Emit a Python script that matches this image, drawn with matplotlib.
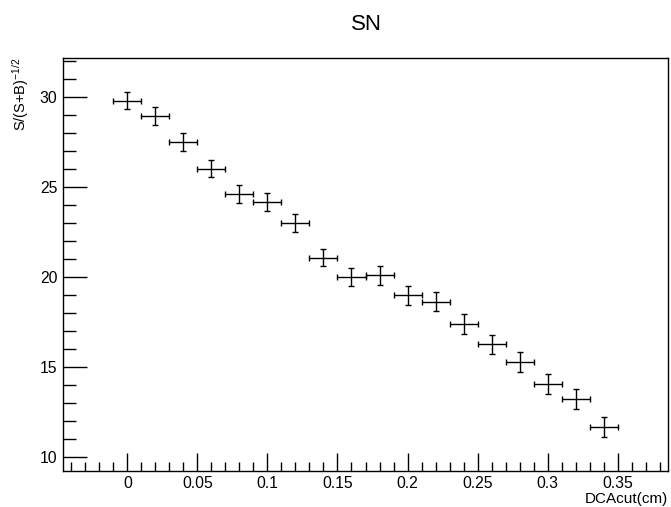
import numpy as np
import matplotlib.pyplot as plt
from matplotlib.ticker import MultipleLocator

plt.rcParams['font.family'] = ['Liberation Sans', 'DejaVu Sans']
plt.rcParams['mathtext.default'] = 'regular'

# DCA cut values and significance
dca_cut = [0.00, 0.02, 0.04, 0.06, 0.08, 0.10, 0.12, 0.14, 0.16,
           0.18, 0.20, 0.22, 0.24, 0.26, 0.28, 0.30, 0.32, 0.34]
signif = [29.79, 28.96, 27.50, 26.02, 24.59, 24.17, 23.02, 21.07, 19.98,
          20.09, 18.98, 18.63, 17.39, 16.26, 15.26, 14.06, 13.22, 11.68]
signif_err = [0.48, 0.49, 0.49, 0.49, 0.50, 0.50, 0.50, 0.47, 0.50,
              0.51, 0.52, 0.52, 0.55, 0.54, 0.55, 0.56, 0.56, 0.55]
dca_err = [0.01] * len(dca_cut)
xtick_vals = [0, 0.05, 0.1, 0.15, 0.2, 0.25, 0.3, 0.35]
xtick_labels = ['0', '0.05', '0.1', '0.15', '0.2', '0.25', '0.3', '0.35']

fig = plt.figure(figsize=(6.71, 5.07), dpi=100)
ax = fig.add_axes([63 / 671, 1 - 471 / 507, 605 / 671, 413 / 507])

ax.errorbar(dca_cut, signif, yerr=signif_err, xerr=dca_err, fmt='none',
            ecolor='black', elinewidth=1.0, capsize=2.5, capthick=1.0)

ax.set_xlim(-0.046, 0.386)
ax.set_ylim(9.22, 32.17)

ax.xaxis.set_minor_locator(MultipleLocator(0.01))
ax.yaxis.set_major_locator(MultipleLocator(5))
ax.yaxis.set_minor_locator(MultipleLocator(1))
ax.set_xticks(xtick_vals)
ax.set_xticklabels(xtick_labels)

ax.tick_params(axis='both', which='both', direction='in', top=False, right=False,
               labelsize=11.3, width=1.0, colors='black')
ax.tick_params(axis='x', which='major', length=13, pad=3.5)
ax.tick_params(axis='x', which='minor', length=6.5)
ax.tick_params(axis='y', which='major', length=17, pad=4)
ax.tick_params(axis='y', which='minor', length=9)

for sp in ax.spines.values():
    sp.set_linewidth(1.0)

fig.text(366 / 671, 1 - 24 / 507, 'SN', ha='center', va='center', fontsize=16)
fig.text(668 / 671, 1 - 499 / 507, 'DCAcut(cm)', ha='right', va='center', fontsize=11)
fig.text(21 / 671, 1 - 58 / 507, r'S/(S+B)$^{-1/2}$', ha='center', va='top',
         rotation=90, fontsize=10.5)

fig.savefig('out.png', dpi=100)
